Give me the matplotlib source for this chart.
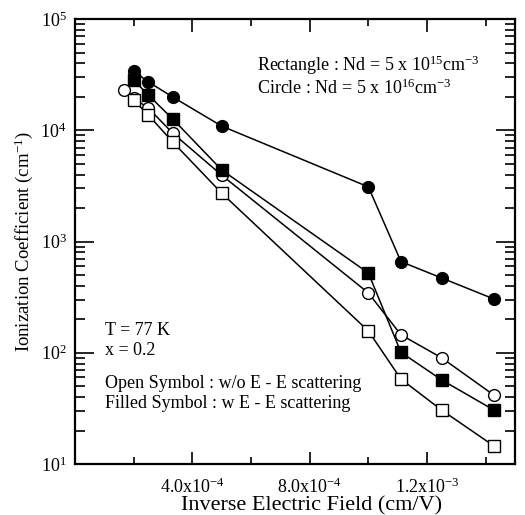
import matplotlib
matplotlib.use("Agg")
import matplotlib.pyplot as plt
from matplotlib.ticker import LogLocator, FixedLocator, NullFormatter

plt.rcParams['font.family'] = ['Liberation Serif', 'DejaVu Serif']
plt.rcParams['mathtext.fontset'] = 'custom'
plt.rcParams['mathtext.rm'] = 'Liberation Serif'
plt.rcParams['mathtext.it'] = 'Liberation Serif:italic'

# inverse field points (cm/V), i.e. 1/E for E = 6000 ... 700 V/cm
inv_field = [1/6000, 1/5000, 1/4000, 1/3000, 1/2000, 1/1000, 1/900, 1/800, 1/700]

# Nd = 5e16, circles
circle_open = [23000, 19500, 15800, 9400, 3950, 345, 145, 90, 41.5]
circle_filled = [34000, 27200, 19900, 10900, 3100, 660, 470, 304]
# Nd = 5e15, squares
square_open = [18700, 13700, 7830, 2720, 157, 58, 30.5, 14.5]
square_filled = [28300, 20700, 12600, 4400, 521, 101, 57, 30.5]

fig = plt.figure(figsize=(5.25, 5.15), dpi=100)
ax = fig.add_axes([0.143, 0.099, 0.838, 0.864])

style = dict(color='black', lw=1.1, markersize=8.5, markeredgewidth=1.0)
ax.plot(inv_field, circle_open, marker='o', mfc='white', mec='black', **style)
ax.plot(inv_field[1:], circle_filled, marker='o', mfc='black', mec='black', **style)
ax.plot(inv_field[1:], square_open, marker='s', mfc='white', mec='black', **style)
ax.plot(inv_field[1:], square_filled, marker='s', mfc='black', mec='black', **style)

ax.set_yscale('log')
ax.set_xlim(0, 1.5e-3)
ax.set_ylim(10, 1e5)

ax.xaxis.set_major_locator(FixedLocator([4e-4, 8e-4, 1.2e-3]))
ax.xaxis.set_minor_locator(FixedLocator([2e-4, 6e-4, 1.0e-3, 1.4e-3]))
ax.set_xticklabels([r'4.0x10$^{-4}$', r'8.0x10$^{-4}$', r'1.2x10$^{-3}$'])
ax.yaxis.set_major_locator(FixedLocator([10, 100, 1000, 1e4, 1e5]))
ax.yaxis.set_minor_locator(LogLocator(base=10, subs=range(2, 10)))
ax.yaxis.set_minor_formatter(NullFormatter())
ax.set_yticklabels([r'10$^{1}$', r'10$^{2}$', r'10$^{3}$', r'10$^{4}$', r'10$^{5}$'])

ax.tick_params(which='both', direction='in', top=True, right=True, labelsize=13, width=1.2)
ax.tick_params(axis='x', which='major', length=9, pad=10)
ax.tick_params(axis='x', which='minor', length=5)
ax.tick_params(axis='y', which='major', length=14, pad=6)
ax.tick_params(axis='y', which='minor', length=7)
for sp in ax.spines.values():
    sp.set_linewidth(1.6)

# x label sits right at the bottom edge of the figure
fig.text(0.593, 0.009, 'Inverse Electric Field (cm/V)',
         fontsize=16, ha='center', va='baseline')
ax.set_ylabel(r'Ionization Coefficient (cm$^{-1}$)', fontsize=13.5, labelpad=4)

fs = 13
ax.text(0.414, 0.897, r'Rectangle : Nd = 5 x 10$^{15}$cm$^{-3}$', transform=ax.transAxes,
        fontsize=fs, va='center')
ax.text(0.414, 0.845, r'Circle : Nd = 5 x 10$^{16}$cm$^{-3}$', transform=ax.transAxes,
        fontsize=fs, va='center')
ax.text(0.068, 0.301, 'T = 77 K', transform=ax.transAxes, fontsize=fs, va='center')
ax.text(0.068, 0.256, 'x = 0.2', transform=ax.transAxes, fontsize=fs, va='center')
ax.text(0.068, 0.182, 'Open Symbol : w/o E - E scattering', transform=ax.transAxes,
        fontsize=fs, va='center')
ax.text(0.068, 0.137, 'Filled Symbol : w E - E scattering', transform=ax.transAxes,
        fontsize=fs, va='center')

fig.savefig('out.png', dpi=100)
